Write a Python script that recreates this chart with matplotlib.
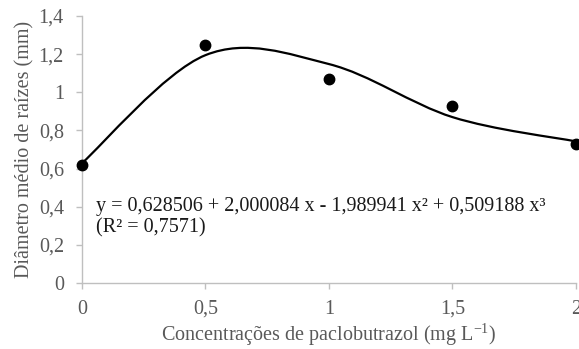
#! /usr/bin/env python3
import numpy as np
import matplotlib
matplotlib.use('Agg')
import matplotlib.pyplot as plt
from matplotlib.path import Path
from matplotlib.patches import PathPatch

# dados observados
concentracoes = [0, 0.5, 1, 1.5, 2]
diametro = [0.62, 1.25, 1.07, 0.93, 0.73]

# coeficientes da regressao cubica (grau 0..3)
coef = [0.628506, 2.000084, -1.989941, 0.509188]

xticks = [0, 0.5, 1, 1.5, 2]
xticklabels = ['0', '0,5', '1', '1,5', '2']
yticks = [0, 0.2, 0.4, 0.6, 0.8, 1.0, 1.2, 1.4]
yticklabels = ['0', '0,2', '0,4', '0,6', '0,8', '1', '1,2', '1,4']


def smooth_path(x, y):
    # linha suavizada tipo Excel (Catmull-Rom em Bezier cubica)
    p = np.column_stack([x, y])
    n = len(p)
    verts = [p[0]]
    codes = [Path.MOVETO]
    for i in range(n - 1):
        p0 = p[max(i - 1, 0)]
        p3 = p[min(i + 2, n - 1)]
        c1 = p[i] + (p[i + 1] - p0) / 6
        c2 = p[i + 1] - (p3 - p[i]) / 6
        verts += [c1, c2, p[i + 1]]
        codes += [Path.CURVE4] * 3
    return Path(verts, codes)


plt.rcParams['font.family'] = ['Liberation Serif', 'DejaVu Serif']
cinza = '#595959'
fs = 14.5

fig = plt.figure(figsize=(5.79, 3.49), dpi=100)
ax = fig.add_axes([0.1416, 0.1891, 0.8532, 0.7651])

ajustado = np.polyval(coef[::-1], np.array(concentracoes))
ax.add_patch(PathPatch(smooth_path(concentracoes, ajustado), fc='none',
                       ec='black', lw=1.6, zorder=2))
ax.plot(concentracoes, diametro, 'o', color='black', ms=7.5, zorder=3,
        clip_on=False)

ax.set_xlim(0, 2)
ax.set_ylim(0, 1.4)
ax.set_xticks(xticks)
ax.set_xticklabels(xticklabels)
ax.set_yticks(yticks)
ax.set_yticklabels(yticklabels)

for s in ['top', 'right']:
    ax.spines[s].set_visible(False)
for s in ['left', 'bottom']:
    ax.spines[s].set_color('#bfbfbf')
    ax.spines[s].set_linewidth(1)
ax.tick_params(axis='both', colors='#bfbfbf', labelcolor=cinza,
               labelsize=fs, length=4, width=1)
ax.tick_params(axis='x', pad=8)
ax.tick_params(axis='y', pad=9)

ax.set_xlabel('Concentrações de paclobutrazol (mg L$^{\\mathregular{-1}}$)',
              fontsize=fs, color=cinza, labelpad=2)
ax.set_ylabel('Diâmetro médio de raízes (mm)', fontsize=fs, color=cinza,
              labelpad=3)

ax.text(0.055, 0.40,
        'y = 0,628506 + 2,000084 x - 1,989941 x² + 0,509188 x³',
        fontsize=fs, color='#1a1a1a', va='center')
ax.text(0.055, 0.29, '(R² = 0,7571)', fontsize=fs, color='#1a1a1a',
        va='center')

fig.savefig('out.png', dpi=100)
